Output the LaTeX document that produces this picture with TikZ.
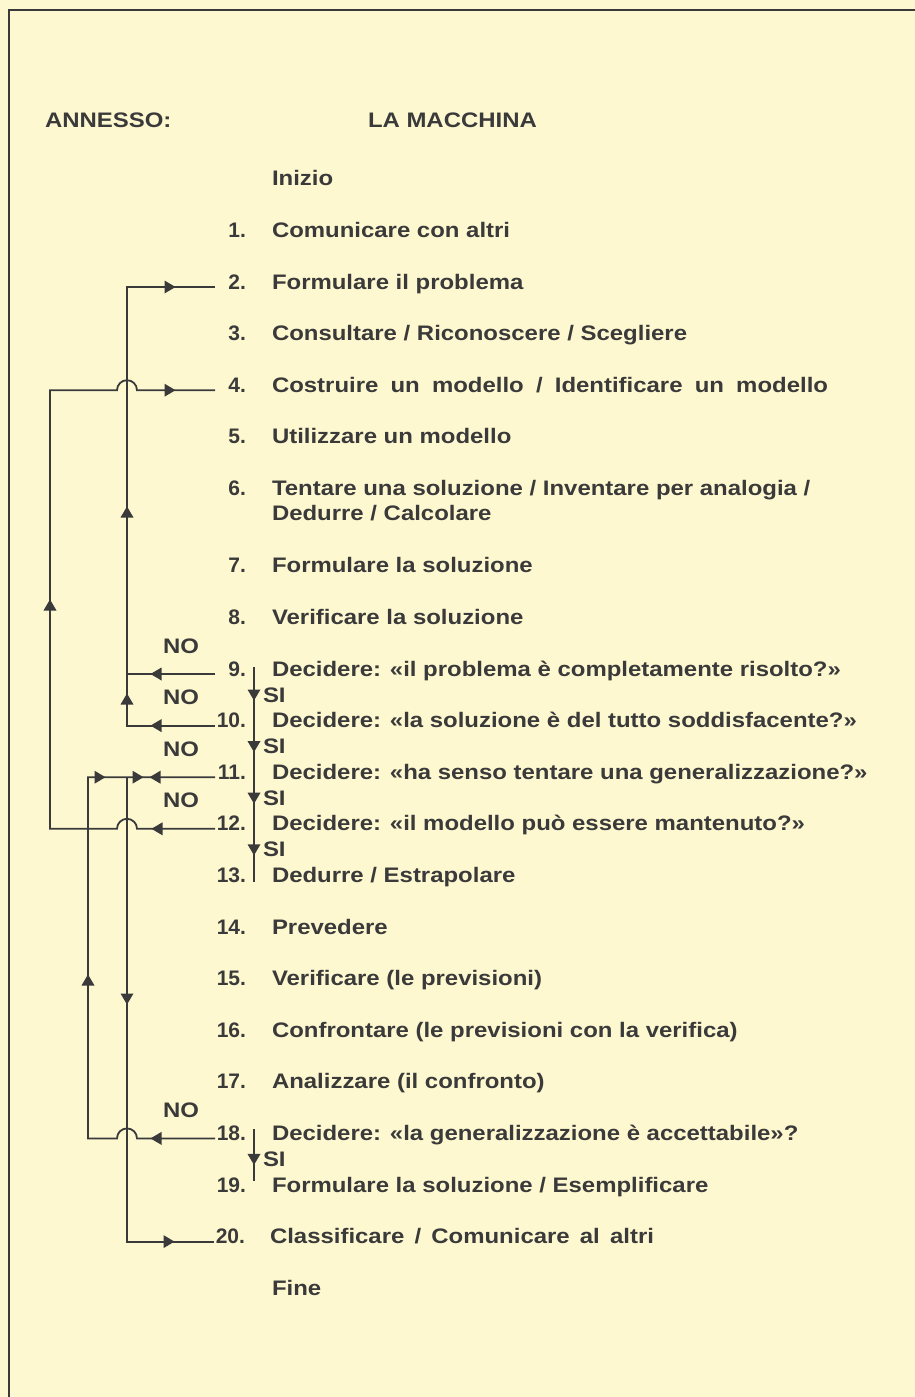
\documentclass[tikz,border=0pt]{standalone}
\usepackage{fontspec}
\setmainfont{Liberation Sans}[FakeStretch=1.14]
\newfontfamily\numfont{Liberation Sans}
\usetikzlibrary{calc}
\definecolor{bg}{HTML}{FEF8D0}
\definecolor{ink}{HTML}{3A3A3A}
\newcommand\jt[2]{\makebox[#1pt][s]{#2}}
\tikzset{
  base/.style={inner sep=0pt, outer sep=0pt, text=ink, font=\fontsize{21}{25}\selectfont\bfseries},
  num/.style={inner sep=0pt, outer sep=0pt, text=ink, font=\numfont\fontsize{21}{25}\selectfont\bfseries, anchor=base east},
  txt/.style={base, anchor=base west},
  conn/.style={draw=ink, line width=1.8pt},
  tri/.pic={\fill[ink] (5.5,0) -- (-5.5,6.5) -- (-5.5,-6.5) -- cycle;},
}
\begin{document}
\begin{tikzpicture}[x=1pt,y=1pt]
\fill[bg] (0,0) rectangle (915,-1397);
\useasboundingbox (0,0) rectangle (915,-1397);
\draw[ink, line width=2pt] (9,-1397) -- (9,-10) -- (915,-10);

% titles
\node[txt] (ann) at (45,-127) {ANNESSO:};
\node[txt] (mac) at (368,-127) {LA MACCHINA};
\node[txt] (ini) at (272,-185.8) {Inizio};

% numbers
\node[num] (n1) at (246,-237.4) {1.};
\node[num] (n2) at (246,-289) {2.};
\node[num] (n3) at (246,-340.6) {3.};
\node[num] (n4) at (246,-392.2) {4.};
\node[num] (n5) at (246,-443.8) {5.};
\node[num] (n6) at (246,-495.4) {6.};
\node[num] (n7) at (246,-572.8) {7.};
\node[num] (n8) at (246,-624.4) {8.};
\node[num] (n9) at (246,-676) {9.};
\node[num] (n10) at (246,-727.6) {10.};
\node[num] (n11) at (246,-779.2) {11.};
\node[num] (n12) at (246,-830.8) {12.};
\node[num] (n13) at (246,-882.4) {13.};
\node[num] (n14) at (246,-934) {14.};
\node[num] (n15) at (246,-985.6) {15.};
\node[num] (n16) at (246,-1037.2) {16.};
\node[num] (n17) at (246,-1088.8) {17.};
\node[num] (n18) at (246,-1140.4) {18.};
\node[num] (n19) at (246,-1192) {19.};
\node[num] (n20) at (245,-1243.6) {20.};

% texts
\node[txt] (t1) at (272,-237.4) {Comunicare con altri};
\node[txt] (t2) at (272,-289) {Formulare il problema};
\node[txt] (t3) at (272,-340.6) {Consultare / Riconoscere / Scegliere};
\node[txt] (t4) at (272,-392.2) {\jt{556}{Costruire un modello / Identificare un modello}};
\node[txt] (t5) at (272,-443.8) {Utilizzare un modello};
\node[txt] (t6) at (272,-495.4) {Tentare una soluzione / Inventare per analogia /};
\node[txt] (t6b) at (272,-520) {Dedurre / Calcolare};
\node[txt] (t7) at (272,-572.8) {Formulare la soluzione};
\node[txt] (t8) at (272,-624.4) {Verificare la soluzione};
\node[txt] (t9) at (272,-676) {Decidere: «il problema è completamente risolto?»};
\node[txt] (t10) at (272,-727.6) {Decidere: «la soluzione è del tutto soddisfacente?»};
\node[txt] (t11) at (272,-779.2) {Decidere: «ha senso tentare una generalizzazione?»};
\node[txt] (t12) at (272,-830.8) {Decidere: «il modello può essere mantenuto?»};
\node[txt] (t13) at (272,-882.4) {Dedurre / Estrapolare};
\node[txt] (t14) at (272,-934) {Prevedere};
\node[txt] (t15) at (272,-985.6) {Verificare (le previsioni)};
\node[txt] (t16) at (272,-1037.2) {Confrontare (le previsioni con la verifica)};
\node[txt] (t17) at (272,-1088.8) {Analizzare (il confronto)};
\node[txt] (t18) at (272,-1140.4) {Decidere: «la generalizzazione è accettabile»?};
\node[txt] (t19) at (272,-1192) {Formulare la soluzione / Esemplificare};
\node[txt] (t20) at (270,-1243.6) {\jt{384}{Classificare / Comunicare al altri}};
\node[txt] (fine) at (272,-1295.2) {Fine};

% NO / SI labels
\foreach \k in {9,10,11,12,18} {
  \node[txt] (no\k) at ($(n\k.base east)+(-83,23)$) {NO};
}
\foreach \k in {9,10,11,12,18} {
  \node[txt] (si\k) at ($(n\k.base east)+(17,-26)$) {SI};
}

% end points of connectors
\coordinate (ax) at (50,0);
\coordinate (cx) at (88,0);
\coordinate (bx) at (127,0);
\foreach \k in {2,4,9,10,11,12,18,20} {
  \coordinate (e\k) at ($(n\k.base east)+(-31,2)$);
}

% B upper: rows 9,10 back to 2
\draw[conn] (e10) -- (e10 -| bx) -- (e2 -| bx) -- (e2);
\draw[conn] (e9) -- (e9 -| bx);
% A: row 12 back to 4
\draw[conn] (e12) -- ($(e12 -| bx)+(10,0)$) arc (0:180:10) -- (e12 -| ax)
  -- (e4 -| ax) -- ($(e4 -| bx)+(-10,0)$) arc (180:0:10) -- (e4);
% C: row 18 back to 11
\draw[conn] (e11) -- (e11 -| cx) -- (e18 -| cx) -- ($(e18 -| bx)+(-10,0)$) arc (180:0:10) -- (e18);
% B lower: row 11 to 20
\draw[conn] (e11 -| bx) -- (e20 -| bx) -- (e20);

% SI verticals
\draw[conn] ($(n9.base east)+(8,9)$) -- ($(n13.base east)+(8,0)$);
\draw[conn] ($(n18.base east)+(8,11)$) -- ($(n19.base east)+(8,11)$);

% arrowheads
\pic at ($(e2 -| bx)+(43,0)$) {tri};
\pic at ($(e4 -| bx)+(43,0)$) {tri};
\pic[rotate=90] at (50,-605) {tri};
\pic[rotate=180] at ($(e12 -| bx)+(30,0)$) {tri};
\pic[rotate=180] at ($(e9 -| bx)+(29,0)$) {tri};
\pic[rotate=180] at ($(e10 -| bx)+(29,0)$) {tri};
\pic[rotate=90] at (127,-512) {tri};
\pic[rotate=90] at (127,-699) {tri};
\pic at ($(e11 -| cx)+(12,0)$) {tri};
\pic at ($(e11 -| bx)+(11,0)$) {tri};
\pic[rotate=180] at ($(e11 -| bx)+(28,0)$) {tri};
\pic[rotate=90] at (88,-980) {tri};
\pic[rotate=-90] at (127,-999) {tri};
\pic[rotate=180] at ($(e18 -| bx)+(29,0)$) {tri};
\pic at ($(e20 -| bx)+(42,0)$) {tri};
\foreach \k in {9,10,11,12,18} {
  \pic[rotate=-90] at ($(n\k.base east)+(8,-19)$) {tri};
}
\end{tikzpicture}
\end{document}
